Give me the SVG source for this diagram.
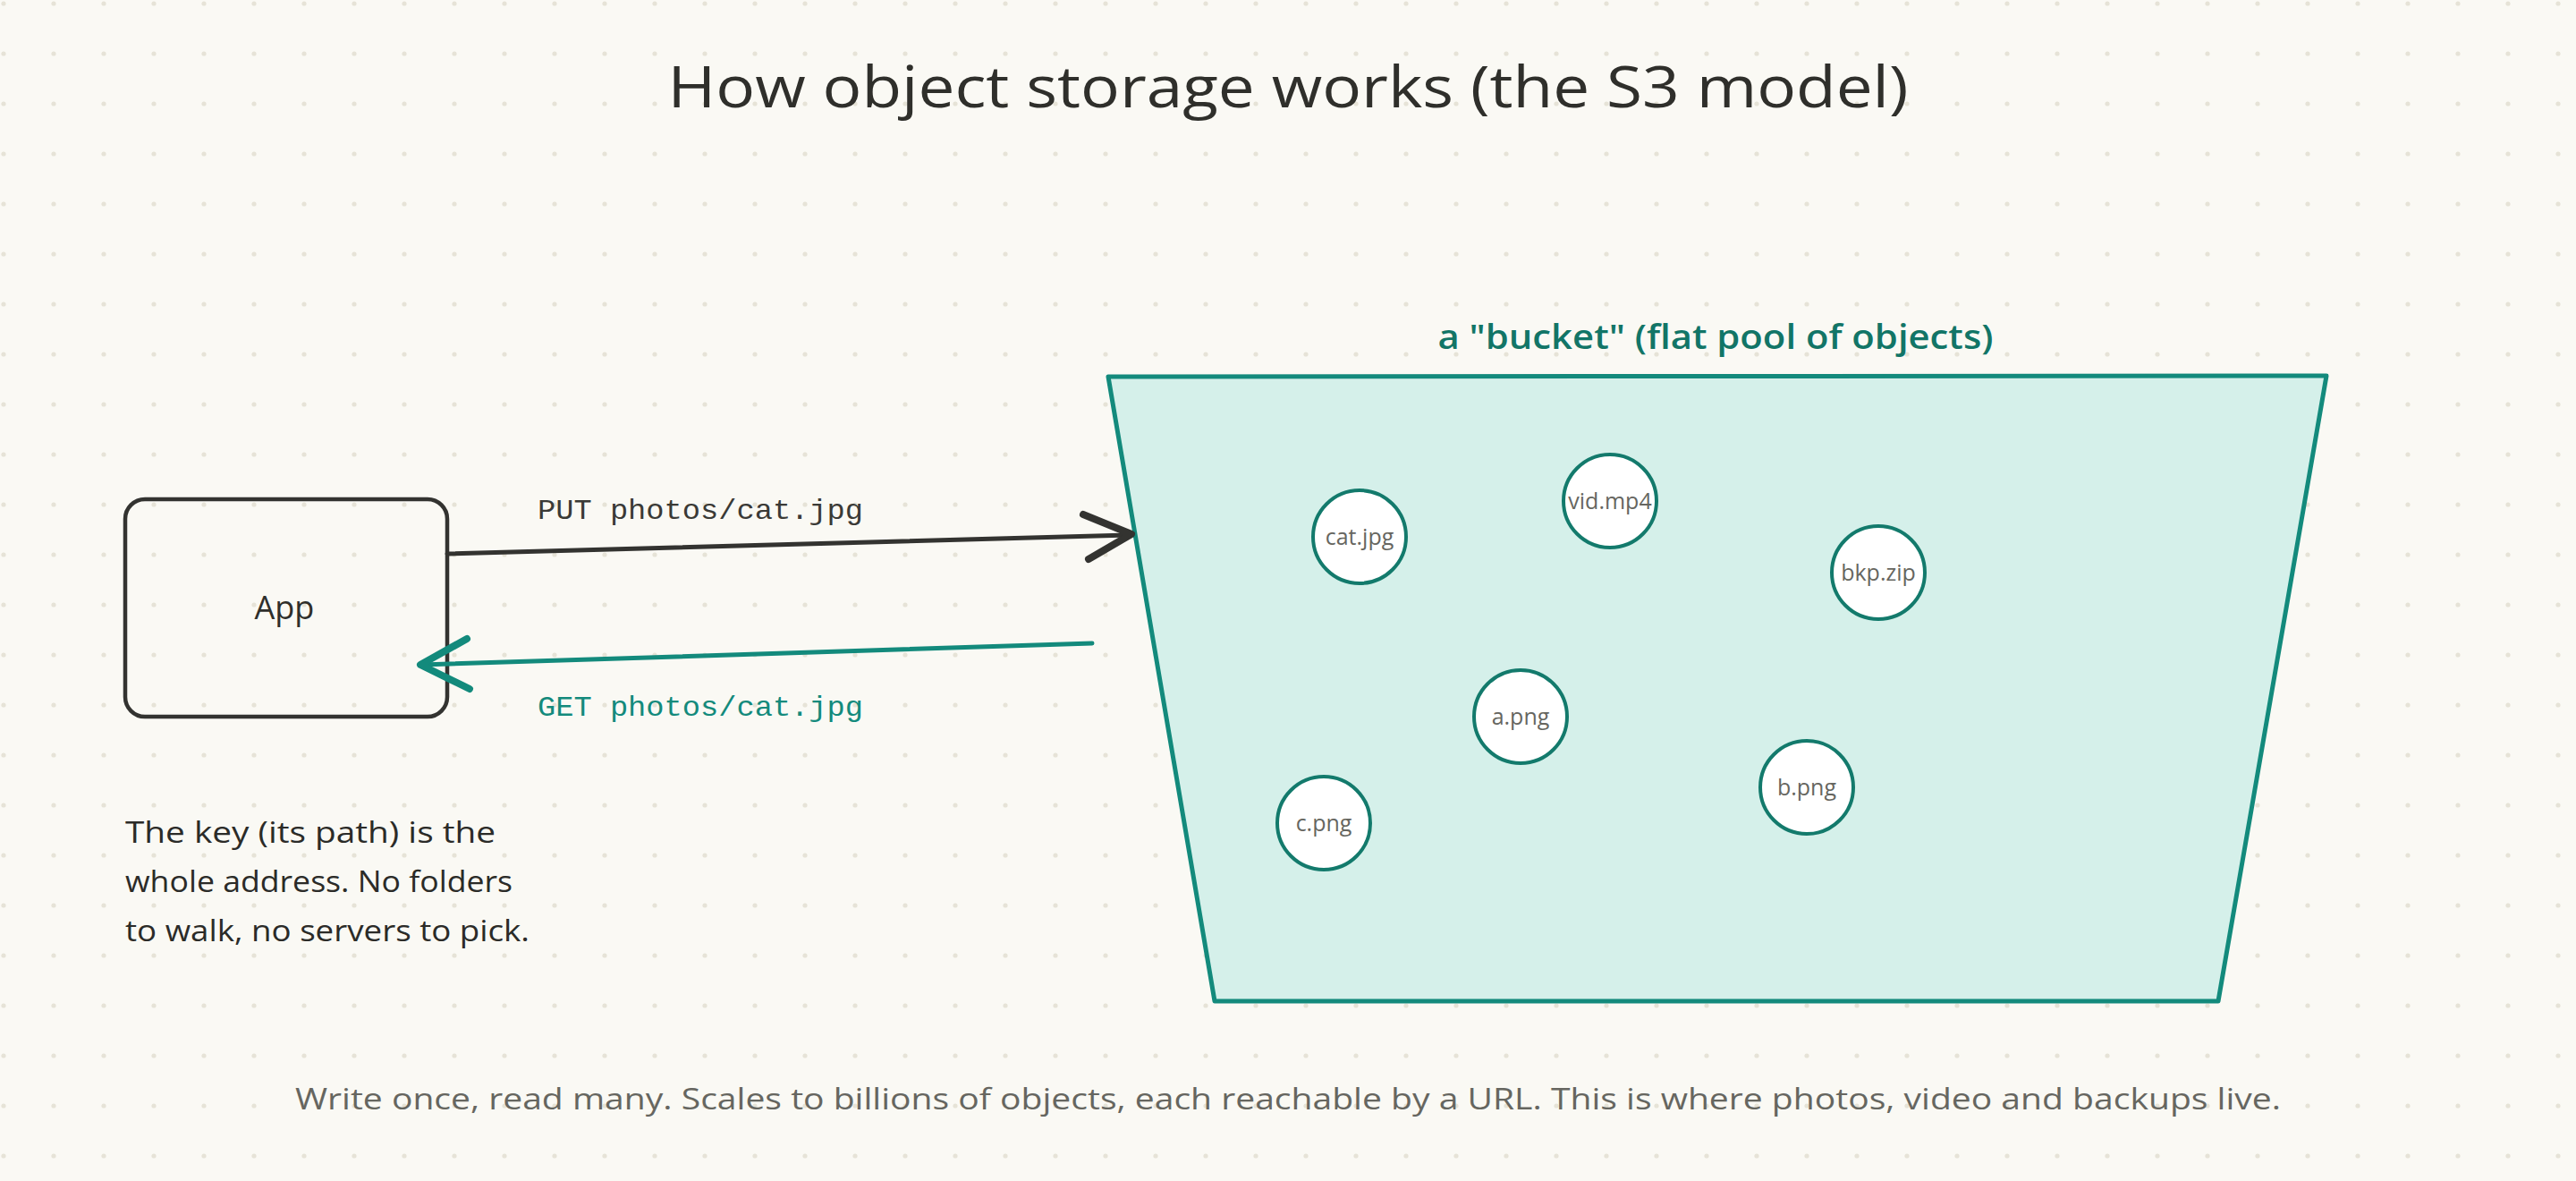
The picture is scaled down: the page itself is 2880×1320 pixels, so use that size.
<svg xmlns="http://www.w3.org/2000/svg" width="2880" height="1320" viewBox="0 0 2880 1320">
<defs>
<pattern id="dots" x="0" y="0" width="56" height="56" patternUnits="userSpaceOnUse">
<circle cx="4" cy="4" r="2.6" fill="#e6e3d7"/>
</pattern>
<style>
.hand{font-family:"Open Sans","Liberation Sans",sans-serif;}
.mono{font-family:"Liberation Mono","DejaVu Sans Mono",monospace;font-size:32px;}
.obj circle{fill:#ffffff;stroke:#137a6c;stroke-width:4;}
.obj text{font-family:"Open Sans","Liberation Sans",sans-serif;font-size:25px;fill:#666660;text-anchor:middle;}
</style>
</defs>
<rect width="2880" height="1320" fill="#faf9f4"/>
<rect width="2880" height="1320" fill="url(#dots)"/>

<g id="title">
<text class="hand" x="1440" y="120" font-size="64" fill="#2f2f2b" text-anchor="middle" textLength="1387" lengthAdjust="spacingAndGlyphs">How object storage works (the S3 model)</text>
</g>

<g id="bucket">
<polygon points="1239,421 2601,420 2480,1119 1358,1119" fill="#d5f0ea" stroke="#138a7c" stroke-width="5" stroke-linejoin="round"/>
<text class="hand" x="1918" y="390" font-size="38" font-weight="600" fill="#127567" text-anchor="middle" textLength="621" lengthAdjust="spacingAndGlyphs">a "bucket" (flat pool of objects)</text>
</g>

<g id="obj-cat" class="obj"><circle cx="1520" cy="600" r="52"/><text x="1520" y="609">cat.jpg</text></g>
<g id="obj-vid" class="obj"><circle cx="1800" cy="560" r="52"/><text x="1800" y="569">vid.mp4</text></g>
<g id="obj-bkp" class="obj"><circle cx="2100" cy="640" r="52"/><text x="2100" y="649">bkp.zip</text></g>
<g id="obj-a" class="obj"><circle cx="1700" cy="801" r="52"/><text x="1700" y="810">a.png</text></g>
<g id="obj-b" class="obj"><circle cx="2020" cy="880" r="52"/><text x="2020" y="889">b.png</text></g>
<g id="obj-c" class="obj"><circle cx="1480" cy="920" r="52"/><text x="1480" y="929">c.png</text></g>

<g id="app">
<rect x="140" y="558" width="360" height="243" rx="22" fill="none" stroke="#333330" stroke-width="4.5"/>
<text class="hand" x="318" y="692" font-size="36" fill="#2f2f2b" text-anchor="middle">App</text>
</g>

<g id="connectors" fill="none" stroke-linecap="round" stroke-linejoin="round">
<line x1="500" y1="619" x2="1262" y2="598" stroke="#333330" stroke-width="5"/>
<polyline points="1211,575 1265,597 1217,625" stroke="#333330" stroke-width="8"/>
<line x1="1221" y1="719" x2="472" y2="743" stroke="#138a7c" stroke-width="5"/>
<polyline points="522,714 470,743 525,770" stroke="#138a7c" stroke-width="8"/>
<text class="mono" x="601" y="580" fill="#3a3a36" stroke="none" textLength="364" lengthAdjust="spacingAndGlyphs">PUT photos/cat.jpg</text>
<text class="mono" x="601" y="800" fill="#138a7c" stroke="none" textLength="364" lengthAdjust="spacingAndGlyphs">GET photos/cat.jpg</text>
</g>

<g id="note" class="hand" font-size="32" fill="#2b2b28">
<text x="140" y="942" textLength="414" lengthAdjust="spacingAndGlyphs">The key (its path) is the</text>
<text x="140" y="997" textLength="433" lengthAdjust="spacingAndGlyphs">whole address. No folders</text>
<text x="140" y="1052" textLength="452" lengthAdjust="spacingAndGlyphs">to walk, no servers to pick.</text>
</g>

<g id="footer">
<text class="hand" x="1440" y="1240" font-size="33" fill="#666660" text-anchor="middle" textLength="2220" lengthAdjust="spacingAndGlyphs">Write once, read many. Scales to billions of objects, each reachable by a URL. This is where photos, video and backups live.</text>
</g>
</svg>
